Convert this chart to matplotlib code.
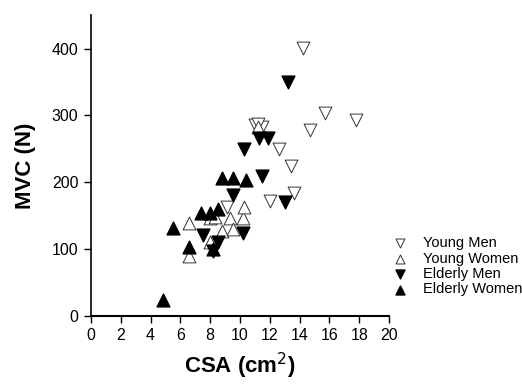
import matplotlib.pyplot as plt

plt.rcParams['font.family'] = ['Liberation Sans', 'DejaVu Sans']

# Young Men (open down triangles)
ym_csa = [14.2, 15.7, 17.8, 14.7, 11.0, 11.5, 12.6, 13.4, 13.6, 12.0, 9.1, 11.2]
ym_mvc = [401, 304, 293, 278, 285, 283, 250, 225, 184, 172, 163, 287]

# Young Women (open up triangles)
yw_csa = [6.6, 6.6, 8.0, 9.3, 10.2, 10.3, 8.8, 9.5, 8.0, 11.2, 8.3]
yw_mvc = [139, 90, 146, 146, 146, 163, 127, 130, 111, 283, 148]

# Elderly Men (filled down triangles)
em_csa = [13.2, 11.3, 11.9, 10.3, 11.5, 13.0, 9.5, 7.5, 10.2, 8.5, 8.2]
em_mvc = [350, 266, 266, 249, 209, 170, 181, 121, 124, 110, 97]

# Elderly Women (filled up triangles)
ew_csa = [4.8, 5.5, 6.6, 7.4, 8.0, 8.5, 8.2, 8.8, 9.5, 10.4]
ew_mvc = [24, 131, 103, 154, 154, 160, 100, 206, 206, 204]

fig = plt.figure(figsize=(5.22, 3.87), dpi=100)
ax = fig.add_axes([0.1743, 0.1835, 0.571, 0.7775])

ms = 85
ax.scatter(ym_csa, ym_mvc, marker='v', s=ms, facecolors='white', edgecolors='#333333', linewidths=0.7, label='Young Men', zorder=3)
ax.scatter(yw_csa, yw_mvc, marker='^', s=ms, facecolors='white', edgecolors='#333333', linewidths=0.7, label='Young Women', zorder=3)
ax.scatter(em_csa, em_mvc, marker='v', s=ms, color='black', label='Elderly Men', zorder=4)
ax.scatter(ew_csa, ew_mvc, marker='^', s=ms, color='black', label='Elderly Women', zorder=4)

ax.set_xlim(0, 20)
ax.set_ylim(0, 450)
ax.set_xticks(range(0, 21, 2))
ax.set_yticks([0, 100, 200, 300, 400])
ax.spines['top'].set_visible(False)
ax.spines['right'].set_visible(False)
ax.spines['left'].set_linewidth(1.2)
ax.spines['bottom'].set_linewidth(1.5)
ax.tick_params(direction='out', length=5, width=1, labelsize=11.5, pad=4)

ax.set_xlabel('CSA (cm$^2$)', fontsize=16, fontweight='bold', labelpad=5)
ax.set_ylabel('MVC (N)', fontsize=16, fontweight='bold', labelpad=11)

fig.legend(loc='upper left', bbox_to_anchor=(0.727, 0.405), frameon=False,
           fontsize=10.5, markerscale=0.7, handletextpad=0.6, labelspacing=0.1,
           borderaxespad=0)

fig.savefig('out.png', dpi=100)
